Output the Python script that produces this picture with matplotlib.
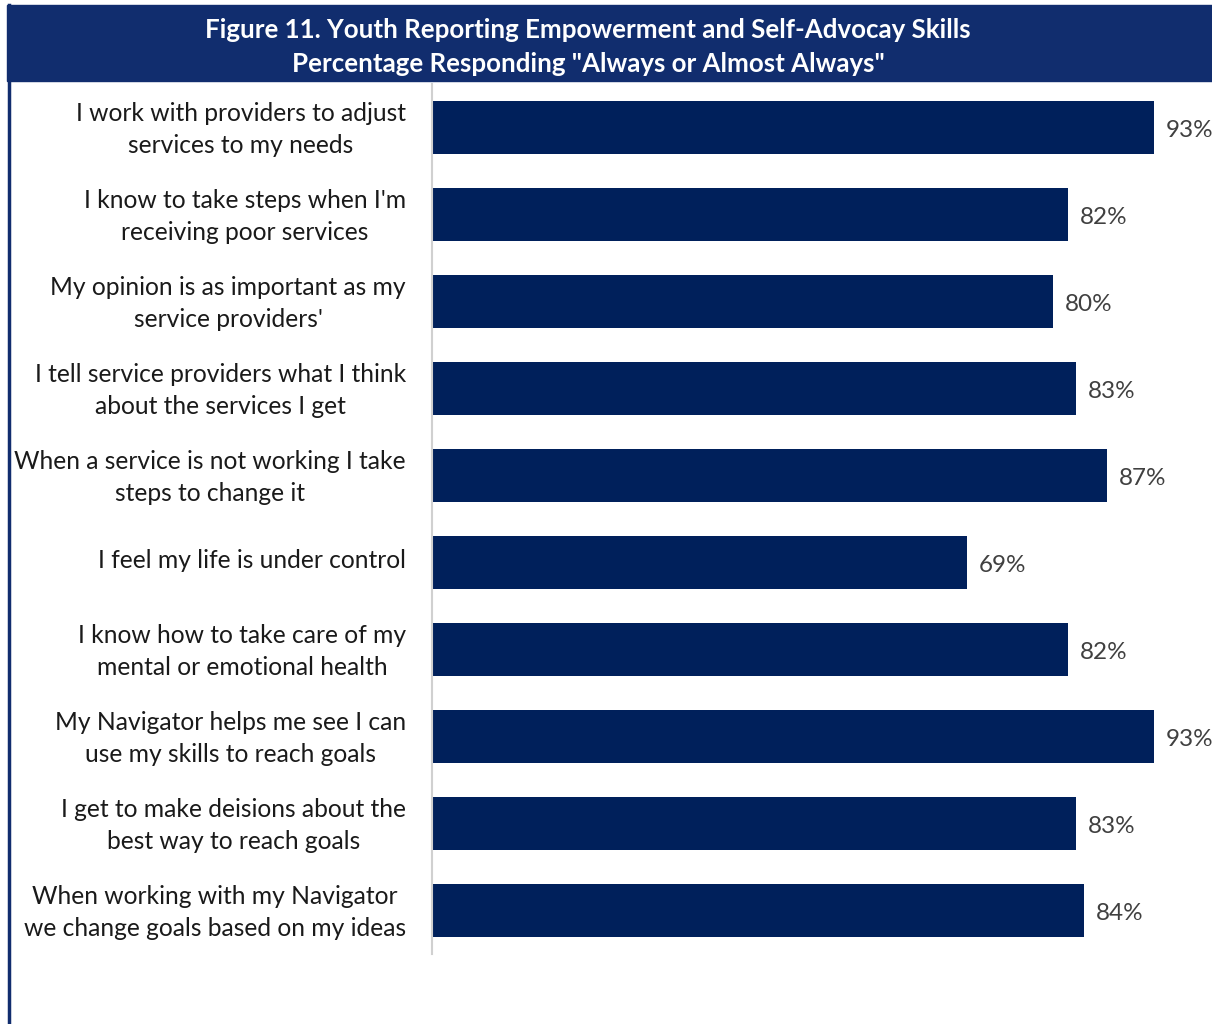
import matplotlib
matplotlib.use("Agg")
import matplotlib.pyplot as plt
import matplotlib.transforms as mtransforms
from matplotlib.patches import Rectangle
from matplotlib.lines import Line2D

categories = [
    "I work with providers to adjust\nservices to my needs",
    "I know to take steps when I'm\nreceiving poor services",
    "My opinion is as important as my\nservice providers'",
    "I tell service providers what I think\nabout the services I get",
    "When a service is not working I take\nsteps to change it",
    "I feel my life is under control",
    "I know how to take care of my\nmental or emotional health",
    "My Navigator helps me see I can\nuse my skills to reach goals",
    "I get to make deisions about the\nbest way to reach goals",
    "When working with my Navigator\nwe change goals based on my ideas",
]
values = [93, 82, 80, 83, 87, 69, 82, 93, 83, 84]
title = 'Figure 11. Youth Reporting Empowerment and Self-Advocay Skills\nPercentage Responding "Always or Almost Always"'

W, H = 1212, 1024
fig = plt.figure(figsize=(W / 100, H / 100), dpi=100)
plt.rcParams['font.family'] = ['Lato', 'DejaVu Sans']

bar_color = "#00205B"
banner_color = "#112D6E"

# banner
fig.patches.append(Rectangle((7 / W, 1 - 81 / H), (W - 7) / W, 76 / H,
                             transform=fig.transFigure, color=banner_color, zorder=0))
fig.lines.append(Line2D([8.5 / W, 8.5 / W], [0, 1 - 5 / H], transform=fig.transFigure,
                        color=banner_color, lw=2.5))
fig.text(588 / W, 1 - 47 / H, title, ha="center", va="center", color="white",
         fontsize=18.6, fontweight="bold", linespacing=1.5)

left, right = 432, 1208
top, bottom = 84, 954
ax = fig.add_axes([left / W, 1 - bottom / H, (right - left) / W, (bottom - top) / H])
y = list(range(len(categories)))
ax.barh(y, values, height=0.61, color=bar_color)
ax.set_xlim(0, 100)
ax.set_ylim(len(categories) - 0.5, -0.5)
ax.set_yticks(y)
ax.set_yticklabels(categories, fontsize=17.7, color="#1a1a1a", ha="right",
                   multialignment="center", linespacing=1.44)
ax.tick_params(axis="y", length=0, pad=18.7)
shift = mtransforms.ScaledTranslation(0, 4 / 100, fig.dpi_scale_trans)
for lbl in ax.get_yticklabels():
    lbl.set_transform(lbl.get_transform() + shift)
ax.set_xticks([])
for s in ["top", "right", "bottom"]:
    ax.spines[s].set_visible(False)
ax.spines["left"].set_color("#D0D0D0")
ax.spines["left"].set_linewidth(1.5)
for yi, v in zip(y, values):
    ax.text(v + 1.5, yi + 0.03, f"{v}%", va="center", ha="left", fontsize=17.5, color="#404040")

fig.savefig("out.png", dpi=100)
